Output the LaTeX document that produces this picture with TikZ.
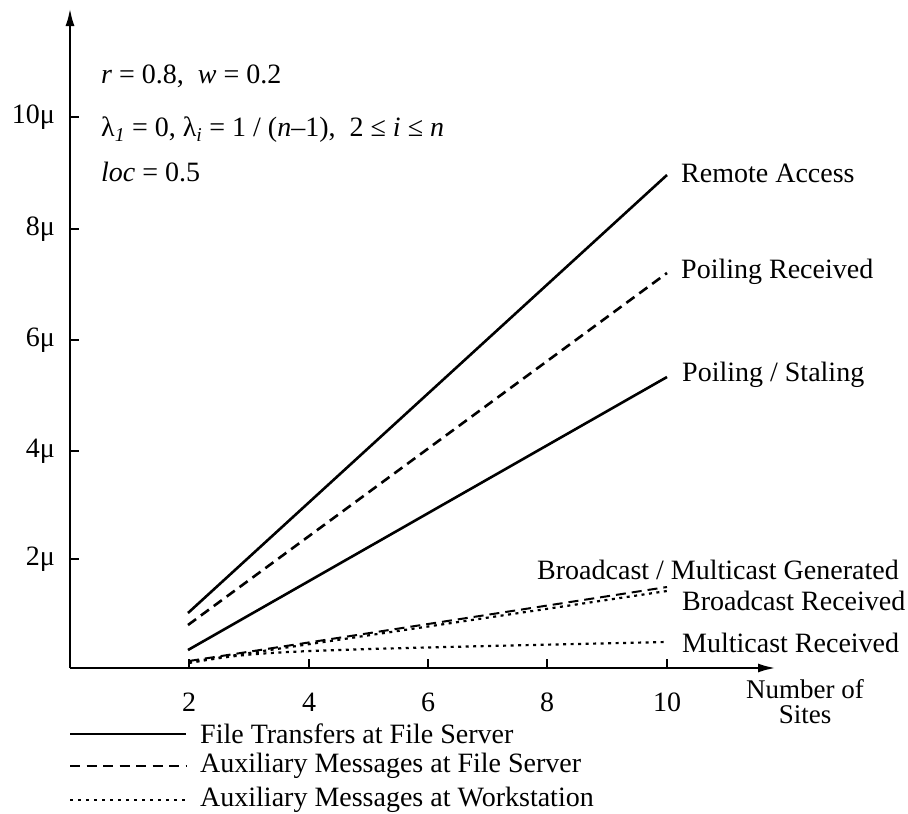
\documentclass[tikz,border=0pt]{standalone}
\usepackage{fontspec}
\setmainfont{Liberation Serif}
\usetikzlibrary{arrows.meta}
\begin{document}
\begin{tikzpicture}[x=1pt,y=-1pt,
  lbl/.style={font=\fontsize{28}{22}\selectfont, inner sep=0pt},
  axisline/.style={line width=2.6pt},
  solidcurve/.style={line width=2.6pt},
  dashcurve/.style={line width=2.6pt, dash pattern=on 10pt off 6pt},
  dotcurve/.style={line width=2.2pt, dash pattern=on 3pt off 4.5pt},
  tickmark/.style={line width=2pt}]
\useasboundingbox (0,0) rectangle (908,814);
% axes
\coordinate (O) at (70,668);
\coordinate (ytop) at (70,8);
\coordinate (xend) at (776,668);
\draw[axisline,-{Latex[length=18pt,width=9pt]}] (O) -- (ytop);
\draw[axisline,-{Latex[length=18pt,width=9pt]}] (O) -- (xend);
% y ticks and labels
\foreach \yy/\tx/\nm in {117/10μ/y10, 229/8μ/y8, 340/6μ/y6, 451/4μ/y4, 559/2μ/y2}{
  \draw[tickmark] (70,\yy) -- (79,\yy);
  \node[lbl,anchor=east] (\nm) at (55,\yy) {\tx};
}
% x ticks and labels
\foreach \xx/\tx/\nm in {189/2/x2, 309/4/x4, 428/6/x6, 547/8/x8, 667/10/x10}{
  \draw[tickmark] (\xx,668) -- (\xx,659);
  \node[lbl] (\nm) at (\xx,702) {\tx};
}
\node[lbl,align=center,font=\fontsize{27}{25}\selectfont] (xlab) at (805,702) {Number of\\Sites};
% parameter text
\node[lbl,anchor=west] (p1) at (101,76) {\textit{r} = 0.8,\ \ \textit{w} = 0.2};
\node[lbl,anchor=west] (p2) at (101,130) {λ\textsubscript{\textit{1}} = 0, λ\textsubscript{\textit{i}} = 1 / (\textit{n}–1),\ \ 2 ≤ \textit{i} ≤ \textit{n}};
\node[lbl,anchor=west] (p3) at (101,172) {\textit{loc} = 0.5};
% data curves
\coordinate (ra0) at (188,613); \coordinate (ra1) at (667,175);
\coordinate (pr0) at (188,625); \coordinate (pr1) at (667,273);
\coordinate (ps0) at (188,650); \coordinate (ps1) at (667,377);
\coordinate (bg0) at (189,661); \coordinate (bg1) at (667,587);
\coordinate (br0) at (189,662); \coordinate (br1) at (667,591);
\coordinate (mr0) at (189,663); \coordinate (mr1) at (667,642);
\draw[solidcurve] (ra0) -- (ra1);
\draw[dashcurve] (pr0) -- (pr1);
\draw[solidcurve] (ps0) -- (ps1);
\draw[dashcurve,line width=2pt] (bg0) -- (bg1);
\draw[dotcurve] (br0) -- (br1);
\draw[dotcurve] (mr0) .. controls (260,651) .. (mr1);
% curve labels
\node[lbl,anchor=west] (lra) at (681,173) {Remote Access};
\node[lbl,anchor=west] (lpr) at (681,272) {Poiling Received};
\node[lbl,anchor=west] (lps) at (682,375) {Poiling / Staling};
\node[lbl,anchor=west] (lbg) at (537,570) {Broadcast / Multicast Generated};
\node[lbl,anchor=west] (lbr) at (682,601) {Broadcast Received};
\node[lbl,anchor=west] (lmr) at (682,643) {Multicast Received};
% legend
\coordinate (g1a) at (70,734); \coordinate (g1b) at (186,734);
\coordinate (g2a) at (70,766); \coordinate (g2b) at (186,766);
\coordinate (g3a) at (70,800); \coordinate (g3b) at (188,800);
\draw[line width=1.6pt] (g1a) -- (g1b);
\draw[line width=1.8pt, dash pattern=on 10pt off 6.5pt] (g2a) -- (g2b);
\draw[line width=1.6pt, dash pattern=on 3pt off 5pt] (g3a) -- (g3b);
\node[lbl,anchor=west] (t1) at (200,734) {File Transfers at File Server};
\node[lbl,anchor=west] (t2) at (200,766) {Auxiliary Messages at File Server};
\node[lbl,anchor=west] (t3) at (200,800) {Auxiliary Messages at Workstation};
\end{tikzpicture}
\end{document}
